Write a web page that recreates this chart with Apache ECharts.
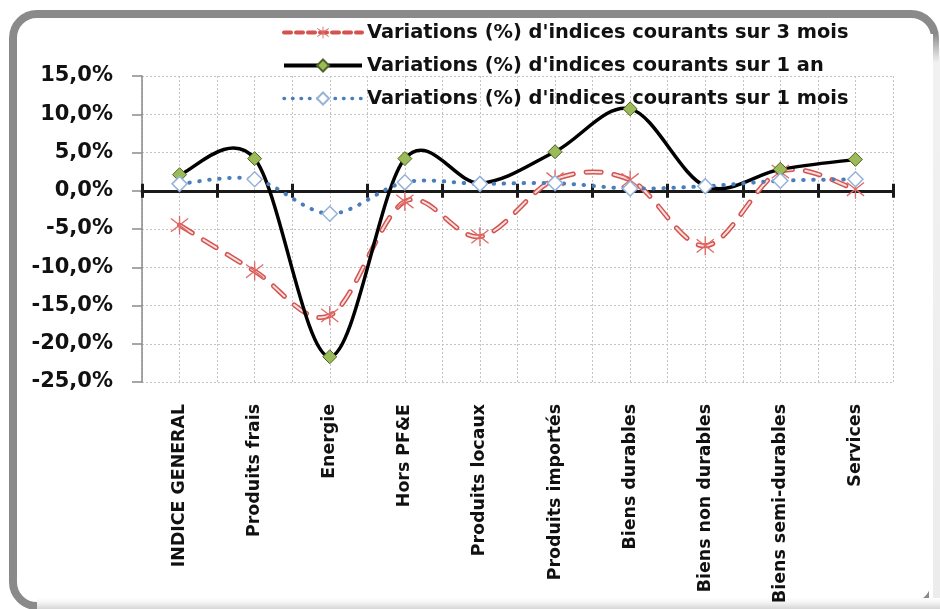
<!DOCTYPE html>
<html>
<head>
<meta charset="utf-8">
<script src="https://cdn.jsdelivr.net/npm/echarts@6/dist/echarts.min.js"></script>
<style>
html,body{margin:0;padding:0;background:#fff;}
#chart{width:940px;height:609px;}
</style>
</head>
<body>
<div id="chart"></div>
<script>
const categories = ['INDICE GENERAL','Produits frais','Energie','Hors PF&E','Produits locaux','Produits importés','Biens durables','Biens non durables','Biens semi-durables','Services'];
const name3m = "Variations (%) d'indices courants sur 3 mois";
const name1a = "Variations (%) d'indices courants sur 1 an";
const name1m = "Variations (%) d'indices courants sur 1 mois";
const values3m = [-4.5, -10.5, -16.3, -1.4, -6.0, 1.5, 1.4, -7.2, 2.5, 0.2];
const values1a = [2.1, 4.2, -21.7, 4.2, 1.0, 5.1, 10.7, 0.6, 2.8, 4.1];
const values1m = [0.9, 1.5, -3.0, 1.1, 0.9, 1.0, 0.3, 0.6, 1.3, 1.5];
const yTicks = {min: -25, max: 15, interval: 5};

const FONT = 'DejaVu Sans';
const starPath = 'path://M-0.7,-10L0.7,-10L0.7,10L-0.7,10Z' +
  'M-8.57,-7.55L9.43,6.45L8.57,7.55L-9.43,-6.45Z' +
  'M-9.43,6.45L8.57,-7.55L9.43,-6.45L-8.57,7.55Z';

const C3 = '#d4534f', C3in = '#f8e0df', C1A = '#000000', C1M = '#4a7ebb';

// Excel-like smoothed curve (Catmull-Rom through the points, computed in pixel space)
function smoothPathData(pts) {
  let d = 'M' + pts[0][0] + ',' + pts[0][1];
  for (let i = 0; i < pts.length - 1; i++) {
    const p0 = pts[i - 1] || pts[i], p1 = pts[i], p2 = pts[i + 1], p3 = pts[i + 2] || pts[i + 1];
    const c1x = p1[0] + (p2[0] - p0[0]) / 6, c1y = p1[1] + (p2[1] - p0[1]) / 6;
    const c2x = p2[0] - (p3[0] - p1[0]) / 6, c2y = p2[1] - (p3[1] - p1[1]) / 6;
    d += ' C' + c1x + ',' + c1y + ' ' + c2x + ',' + c2y + ' ' + p2[0] + ',' + p2[1];
  }
  return d;
}
function curveSeries(values, z, styles) {
  return {
    type: 'custom', z: z, silent: true, clip: true,
    data: values.map((v, i) => [i, v]),
    encode: {x: 0, y: 1},
    renderItem: function (params, api) {
      if (params.dataIndex !== 0) return null;
      const pts = values.map((v, i) => api.coord([i, v]));
      const d = smoothPathData(pts);
      return {
        type: 'group',
        children: styles.map(s => ({
          type: 'path', shape: {pathData: d},
          style: Object.assign({fill: null}, s)
        }))
      };
    }
  };
}
function markerSeries(name, values, z, symbol, size, itemStyle, lineColor) {
  return {
    name: name, type: 'line', data: values, z: z,
    lineStyle: {width: 0, opacity: 0, color: lineColor},
    itemStyle: itemStyle, symbol: symbol, symbolSize: size, showAllSymbol: true
  };
}

const chart = echarts.init(document.getElementById('chart'), null, {renderer: 'canvas'});
const hidden = {show: false};
chart.setOption({
  animation: false,
  backgroundColor: '#ffffff',
  graphic: [
    {type: 'rect', z: -10, shape: {x: 13, y: 14, width: 922, height: 592, r: 24},
     style: {fill: '#ffffff', stroke: '#8a8a8a', lineWidth: 8}},
    {type: 'rect', z: -9, shape: {x: 929, y: 34, width: 11, height: 575},
     style: {fill: new echarts.graphic.LinearGradient(0, 0, 0, 1, [
       {offset: 0, color: 'rgba(255,255,255,0)'}, {offset: 0.05, color: '#f1f1f1'}, {offset: 1, color: '#ececec'}])}},
    {type: 'rect', z: -9, shape: {x: 929, y: 34, width: 4, height: 575},
     style: {fill: '#ffffff'}},
    {type: 'rect', z: -9, shape: {x: 37, y: 598, width: 903, height: 11},
     style: {fill: new echarts.graphic.LinearGradient(0, 0, 0, 1, [
       {offset: 0, color: '#ffffff'}, {offset: 0.45, color: '#f2f2f2'}, {offset: 1, color: '#d6d6d6'}])}}
  ],
  legend: {
    data: [
      {name: name3m, lineStyle: {opacity: 1, width: 4, color: C3, type: [7, 5], cap: 'round'}},
      {name: name1a, lineStyle: {opacity: 1, width: 4, color: C1A, type: 'solid'}},
      {name: name1m, lineStyle: {opacity: 1, width: 3.5, color: C1M, type: [0.5, 8], cap: 'round'}}
    ],
    orient: 'vertical',
    left: 277,
    top: 18,
    itemWidth: 78,
    itemHeight: 15,
    itemGap: 14,
    textStyle: {fontFamily: FONT, fontWeight: 'bold', fontSize: 19.4, color: '#111'}
  },
  grid: {left: 142, right: 47, top: 76, bottom: 227, containLabel: false},
  xAxis: [
    {type: 'category', data: categories, position: 'bottom',
     axisLine: {show: false, onZero: false}, axisTick: hidden, splitLine: hidden,
     axisLabel: {rotate: 90, margin: 22, fontFamily: FONT, fontWeight: 'bold', fontSize: 17.4, color: '#111', interval: 0}},
    {type: 'value', min: 0, max: 20, interval: 1, position: 'bottom',
     axisLine: {show: false, onZero: false}, axisTick: hidden, axisLabel: hidden,
     splitLine: {show: true, lineStyle: {color: '#c4c4c4', width: 1, type: [2, 2]}}},
    {type: 'value', min: 0, max: 10, interval: 1, position: 'bottom',
     axisLine: {show: true, onZero: true, onZeroAxisIndex: 0, lineStyle: {color: '#1a1a1a', width: 3}},
     axisTick: {show: true, length: 7, lineStyle: {color: '#1a1a1a', width: 3}},
     axisLabel: hidden, splitLine: hidden},
    {type: 'value', min: 0, max: 10, interval: 1, position: 'bottom',
     axisLine: {show: false, onZero: true, onZeroAxisIndex: 0},
     axisTick: {show: true, inside: true, length: 7, lineStyle: {color: '#1a1a1a', width: 3}},
     axisLabel: hidden, splitLine: hidden}
  ],
  yAxis: {
    type: 'value', min: yTicks.min, max: yTicks.max, interval: yTicks.interval,
    axisLine: {show: true, onZero: false, lineStyle: {color: '#8a8a8a', width: 1.5}},
    axisTick: {show: true, length: 10, lineStyle: {color: '#8a8a8a', width: 1.5}},
    splitLine: {show: true, lineStyle: {color: '#c4c4c4', width: 1, type: [2, 2]}},
    axisLabel: {margin: 29, fontFamily: FONT, fontWeight: 'bold', fontSize: 21, color: '#111',
      formatter: v => v.toFixed(1).replace('.', ',') + '%'}
  },
  series: [
    curveSeries(values3m, 3, [
      {stroke: C3, lineWidth: 5, lineDash: [15, 13], lineCap: 'round'},
      {stroke: C3in, lineWidth: 2, lineDash: [15, 13], lineCap: 'round'}
    ]),
    curveSeries(values1a, 4, [{stroke: C1A, lineWidth: 3.5, lineJoin: 'round'}]),
    curveSeries(values1m, 5, [{stroke: C1M, lineWidth: 4, lineDash: [0.5, 9.5], lineCap: 'round'}]),
    markerSeries(name3m, values3m, 6, starPath, [18, 19], {color: '#e06a67'}, C3),
    markerSeries(name1a, values1a, 7, 'diamond', 14, {color: '#9bbb59', borderColor: '#4f6228', borderWidth: 1}, C1A),
    markerSeries(name1m, values1m, 8, 'diamond', 15, {color: '#ffffff', borderColor: '#95b3d7', borderWidth: 1.5}, C1M)
  ]
});
</script>
</body>
</html>
